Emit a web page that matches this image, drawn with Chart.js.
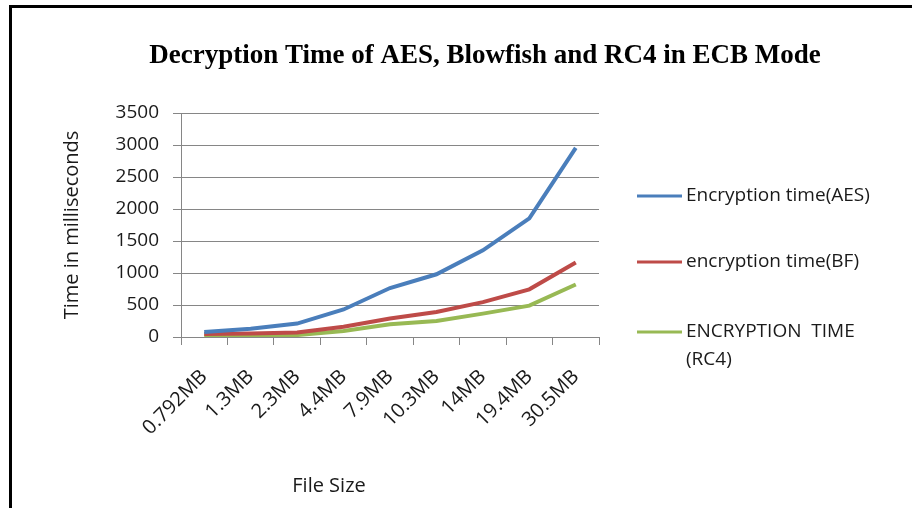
<!DOCTYPE html>
<html>
<head>
<meta charset="utf-8">
<script src="https://cdn.jsdelivr.net/npm/chart.js@4/dist/chart.umd.min.js"></script>
<style>
  html, body { margin: 0; padding: 0; background: #fff; }
  #wrap { position: relative; width: 912px; height: 508px; overflow: hidden; }
  #frame {
    position: absolute; left: 9px; top: 5px; right: -20px; bottom: -20px;
    border-left: 3px solid #000; border-top: 3px solid #000; pointer-events: none;
  }
</style>
</head>
<body>
<div id="wrap">
  <canvas id="chart-decrypt" width="912" height="508"></canvas>
  <div id="frame"></div>
</div>
<script>
/* ── Données ───────────────────────────────────────────────── */
const tailles   = ['0.792MB', '1.3MB', '2.3MB', '4.4MB', '7.9MB', '10.3MB', '14MB', '19.4MB', '30.5MB'];
const tempsAES  = [80, 130, 210, 430, 765, 980, 1355, 1855, 2955];
const tempsBF   = [45, 55, 70, 160, 290, 390, 545, 745, 1165];
const tempsRC4  = [20, 25, 30, 95, 200, 250, 365, 490, 820];
const libelles  = ['Encryption time(AES)', 'encryption time(BF)', ['ENCRYPTION  TIME', '(RC4)']];
const couleurs  = ['#4a7ebb', '#be4b48', '#98b954'];

const POLICE = "'Open Sans', sans-serif";

/* ── Titre, légende et titre de l'axe X dessinés à la main ─── */
const decor = {
  id: 'decor',
  afterDraw(chart) {
    const { ctx, chartArea } = chart;
    ctx.save();
    /* titre principal */
    ctx.fillStyle = '#000';
    ctx.font = "bold 27px 'Liberation Serif', serif";
    ctx.textAlign = 'center';
    ctx.textBaseline = 'middle';
    ctx.fillText('Decryption Time of AES, Blowfish and RC4 in ECB Mode', 485, 56);

    /* titre de l'axe X */
    ctx.fillStyle = '#1a1a1a';
    ctx.font = '20px ' + POLICE;
    ctx.fillText('File Size', 329, 486);

    /* légende */
    ctx.textAlign = 'left';
    ctx.font = '19px ' + POLICE;
    const x0 = chartArea.right + 38;
    const ys = [196, 262, 332];
    chart.data.datasets.forEach((ds, i) => {
      ctx.strokeStyle = ds.borderColor;
      ctx.lineWidth = 3;
      ctx.beginPath();
      ctx.moveTo(x0, ys[i]);
      ctx.lineTo(x0 + 45, ys[i]);
      ctx.stroke();
      const lignes = [].concat(libelles[i]);
      lignes.forEach((t, k) => {
        ctx.fillStyle = '#1a1a1a';
        ctx.fillText(t, x0 + 49, ys[i] + k * 28);
      });
    });
    ctx.restore();
  },
};

const serie = (label, data, couleur) => ({
  label, data,
  borderColor: couleur,
  backgroundColor: couleur,
  borderWidth: 4,
  pointRadius: 0,
  tension: 0,
  fill: false,
});

new Chart(document.getElementById('chart-decrypt').getContext('2d'), {
  type: 'line',
  data: {
    labels: tailles,
    datasets: [
      serie('Encryption time(AES)', tempsAES, couleurs[0]),
      serie('encryption time(BF)', tempsBF, couleurs[1]),
      serie('ENCRYPTION TIME (RC4)', tempsRC4, couleurs[2]),
    ],
  },
  options: {
    responsive: false,
    animation: false,
    layout: { padding: { left: 60, right: 313, top: 113, bottom: 0 } },
    plugins: {
      legend: { display: false },
      title: { display: false },
      tooltip: { enabled: false },
    },
    scales: {
      x: {
        offset: true,
        afterFit: s => { s.height = 171; },
        grid: { offset: true, drawOnChartArea: false, drawTicks: true, tickLength: 8, color: '#868686' },
        border: { color: '#868686' },
        ticks: {
          minRotation: 45, maxRotation: 45, autoSkip: false, padding: 20,
          color: '#1a1a1a', font: { family: POLICE, size: 20 },
        },
      },
      y: {
        min: 0, max: 3500,
        afterFit: s => { s.width = 121; },
        grid: { color: '#868686', tickLength: 8, drawTicks: true },
        border: { color: '#868686' },
        ticks: {
          stepSize: 500, padding: 14,
          callback: v => String(v),
          color: '#1a1a1a', font: { family: POLICE, size: 19 },
        },
        title: {
          display: true, text: 'Time in milliseconds', padding: 0,
          color: '#1a1a1a', font: { family: POLICE, size: 20 },
        },
      },
    },
  },
  plugins: [decor],
});
</script>
</body>
</html>
